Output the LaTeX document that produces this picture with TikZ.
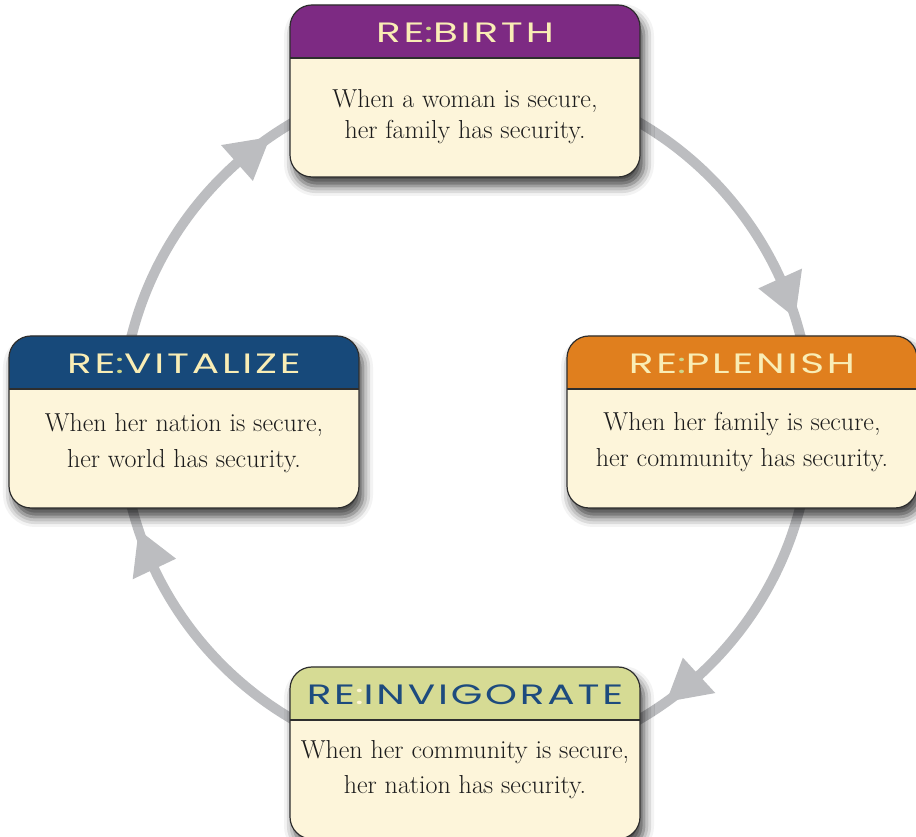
\documentclass[tikz,border=0pt]{standalone}
\usepackage{fontspec}
\newfontfamily\hdrfont[FakeStretch=1.45,LetterSpace=10]{Poppins}
\usetikzlibrary{shadows.blur,calc}
\definecolor{ringc}{HTML}{BCBDC0}
\definecolor{cream}{HTML}{FDF5DA}
\definecolor{boxline}{HTML}{2E2E2E}
\definecolor{hpurple}{HTML}{7D2A83}
\definecolor{horange}{HTML}{E07F1E}
\definecolor{hblue}{HTML}{17497A}
\definecolor{hgreen}{HTML}{D6DB94}
\definecolor{htext}{HTML}{F9EDB5}
\definecolor{hcolon}{HTML}{CED58A}
\definecolor{itext}{HTML}{1D4B7E}
\definecolor{icolon}{HTML}{FFF6D5}
\definecolor{bodytext}{HTML}{1C1C1C}
\tikzset{
  ringline/.style={draw=ringc, line width=10pt},
  arrowhd/.style={fill=ringc},
  cardbox/.style={draw=boxline, line width=1.2pt, fill=cream, rounded corners=22pt,
    minimum width=350pt, minimum height=172pt, inner sep=0pt,
    blur shadow={shadow xshift=4pt, shadow yshift=-9pt, shadow blur radius=10pt, shadow opacity=75},
    path picture={
      \fill[#1, sharp corners] ([yshift=2pt]path picture bounding box.north west) rectangle ([yshift=-53pt]path picture bounding box.north east);
      \draw[boxline, line width=1.2pt, sharp corners] ([yshift=-53pt]path picture bounding box.north west) -- ([yshift=-53pt]path picture bounding box.north east);
    }},
  hdrtext/.style={anchor=base, inner sep=0pt, font=\hdrfont\fontsize{28}{30}\selectfont},
  bodytxt/.style={anchor=center, align=center, inner sep=0pt, text=bodytext},
}
\begin{document}
\begin{tikzpicture}[x=1pt,y=1pt]
\clip (0,0) rectangle (916,836);
\useasboundingbox (0,0) rectangle (916,836);
\coordinate (O) at (466,415);
% ring
\draw[ringline] (O) circle[radius=345];
% arrowheads (clockwise flow)
\fill[arrowhd] ([shift={(17.4:345)}]O) -- ([shift={(24.4:369)}]O) -- ([shift={(24.4:321)}]O) -- cycle;
\fill[arrowhd] ([shift={(-54.5:345)}]O) -- ([shift={(-47.5:369)}]O) -- ([shift={(-47.5:321)}]O) -- cycle;
\fill[arrowhd] ([shift={(198.4:345)}]O) -- ([shift={(205.4:369)}]O) -- ([shift={(205.4:321)}]O) -- cycle;
\fill[arrowhd] ([shift={(124.6:345)}]O) -- ([shift={(131.6:369)}]O) -- ([shift={(131.6:321)}]O) -- cycle;
% cards
\node[cardbox=hpurple] (birth) at (465,745) {};
\node[cardbox=horange] (plenish) at (742,414) {};
\node[cardbox=hblue] (vitalize) at (184,414) {};
\node[cardbox=hgreen] (invig) at (465,83) {};
% headers
\node[hdrtext, text=htext] (birthH) at ([yshift=-38pt]birth.north) {RE\textcolor{hcolon}{:}BIRTH};
\node[hdrtext, text=htext] (plenishH) at ([yshift=-38pt]plenish.north) {RE\textcolor{hcolon}{:}PLENISH};
\node[hdrtext, text=htext] (vitalizeH) at ([yshift=-38pt]vitalize.north) {RE\textcolor{hcolon}{:}VITALIZE};
\node[hdrtext, text=itext] (invigH) at ([yshift=-38pt]invig.north) {RE\textcolor{icolon}{:}INVIGORATE};
% bodies
\node[bodytxt, font=\fontsize{26}{31}\selectfont] (birthB) at ([yshift=-112pt]birth.north) {When a woman is secure,\\her family has security.};
\node[bodytxt, font=\fontsize{26}{36}\selectfont] (plenishB) at ([yshift=-107pt]plenish.north) {When her family is secure,\\her community has security.};
\node[bodytxt, font=\fontsize{26}{36}\selectfont] (vitalizeB) at ([yshift=-108pt]vitalize.north) {When her nation is secure,\\her world has security.};
\node[bodytxt, font=\fontsize{26}{35}\selectfont] (invigB) at ([yshift=-103pt]invig.north) {When her community is secure,\\her nation has security.};
\end{tikzpicture}
\end{document}
